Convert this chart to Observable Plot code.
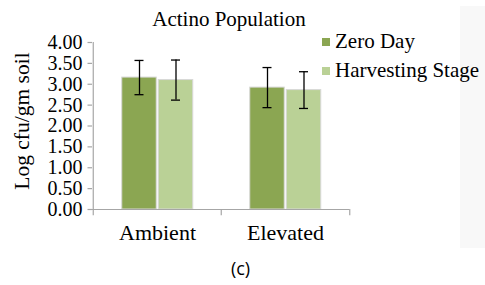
<!DOCTYPE html>
<html><head><meta charset="utf-8">
<script src="https://cdn.jsdelivr.net/npm/d3@7"></script>
<script src="https://cdn.jsdelivr.net/npm/@observablehq/plot@0.6"></script>
<style>
body{margin:0;background:#fff;}
#wrap{position:relative;width:485px;height:285px;overflow:hidden;font-family:"Liberation Serif","Times New Roman",serif;color:#000;}
#bgr{position:absolute;left:460px;top:6px;width:25px;height:242px;background:#f8f8f8;}
.t{position:absolute;white-space:nowrap;line-height:1;font-family:"Liberation Serif","Times New Roman",serif;}
#chart{position:absolute;left:0;top:0;}
</style></head>
<body>
<div id="wrap">
<div id="bgr"></div>
<div id="chart"></div>
<div class="t" id="title" style="font-size:21px;left:0;width:458px;text-align:center;top:9px;">Actino Population</div>
<div class="t" id="ylab" style="font-size:21.5px;left:23px;top:121px;transform:translate(-50%,-50%) rotate(-90deg);">Log cfu/gm soil</div>
<div id="legend"></div>
<div class="t" id="cap" style="font-family:'Open Sans','DejaVu Sans',sans-serif;font-size:18px;left:0;width:481px;text-align:center;top:259px;">(c)</div>
</div>
<script>
const categories = ["Ambient", "Elevated"];
const seriesNames = ["Zero Day", "Harvesting Stage"];
const zeroDay = [3.16, 2.92];
const zeroDayErr = [0.41, 0.48];
const harvesting = [3.10, 2.86];
const harvestingErr = [0.48, 0.44];
const yTicks = [0, 0.5, 1, 1.5, 2, 2.5, 3, 3.5, 4];
const colors = ["#8BA652", "#BAD196"];

const mk = (vals, errs) => categories.map((c, i) => ({cat: c, value: vals[i], lo: vals[i] - errs[i], hi: vals[i] + errs[i]}));
const dZero = mk(zeroDay, zeroDayErr);
const dHarv = mk(harvesting, harvestingErr);

const axisGray = "#a6a6a6";
const barInset = 46.75;
const capInset = 59.5;
const half = 64.25;

const plot = Plot.plot({
  width: 485, height: 285,
  marginLeft: 92, marginRight: 136, marginTop: 42, marginBottom: 76,
  style: {fontFamily: "'Liberation Serif','Times New Roman',serif", background: "transparent", overflow: "visible"},
  x: {domain: categories, padding: 0, axis: null},
  y: {domain: [0, 4], axis: null},
  marks: [
    Plot.barY(dZero, {x: "cat", y: "value", fill: colors[0], stroke: "#d8d8d8", strokeWidth: 1, insetLeft: barInset, insetRight: barInset, dx: -18}),
    Plot.barY(dHarv, {x: "cat", y: "value", fill: colors[1], stroke: "#d8d8d8", strokeWidth: 1, insetLeft: barInset, insetRight: barInset, dx: 18.5}),
    Plot.ruleX(dZero, {x: "cat", y1: "lo", y2: "hi", dx: -18, stroke: "#000", strokeWidth: 1.3}),
    Plot.ruleX(dHarv, {x: "cat", y1: "lo", y2: "hi", dx: 18.5, stroke: "#000", strokeWidth: 1.3}),
    Plot.tickY(dZero, {x: "cat", y: "lo", dx: -18, insetLeft: capInset, insetRight: capInset, stroke: "#000", strokeWidth: 1.3}),
    Plot.tickY(dZero, {x: "cat", y: "hi", dx: -18, insetLeft: capInset, insetRight: capInset, stroke: "#000", strokeWidth: 1.3}),
    Plot.tickY(dHarv, {x: "cat", y: "lo", dx: 18.5, insetLeft: capInset, insetRight: capInset, stroke: "#000", strokeWidth: 1.3}),
    Plot.tickY(dHarv, {x: "cat", y: "hi", dx: 18.5, insetLeft: capInset, insetRight: capInset, stroke: "#000", strokeWidth: 1.3}),
    // axes
    Plot.ruleY([0], {stroke: axisGray, strokeWidth: 1.2}),
    Plot.ruleX([categories[0]], {x: d => d, dx: -half, y1: 0, y2: 4, stroke: axisGray, strokeWidth: 1.2}),
    Plot.ruleX(categories, {x: d => d, dx: -half, y1: 0, y2: -0.15, stroke: axisGray, strokeWidth: 1.2}),
    Plot.ruleX([categories[categories.length - 1]], {x: d => d, dx: half, y1: 0, y2: -0.15, stroke: axisGray, strokeWidth: 1.2}),
    Plot.tickY(yTicks, {y: d => d, x: () => categories[0], dx: -half - 3, insetLeft: 61.75, insetRight: 61.75, stroke: axisGray, strokeWidth: 1.2}),
    Plot.text(yTicks, {y: d => d, frameAnchor: "left", dx: -10, textAnchor: "end", text: d => d3.format(".2f")(d), fontSize: 20, fill: "#000"}),
    Plot.text(categories, {x: d => d, frameAnchor: "bottom", dy: 30, text: d => d, fontSize: 22, fill: "#000"})
  ]
});
document.getElementById("chart").appendChild(plot);

const leg = document.getElementById("legend");
seriesNames.forEach((s, i) => {
  const y = 37 + i * 29;
  const sw = document.createElement("div");
  sw.style.cssText = `position:absolute;left:322px;top:${y + 1}px;width:8px;height:8px;background:${colors[i]};`;
  leg.appendChild(sw);
  const t = document.createElement("div");
  t.className = "t";
  t.style.cssText = `left:335px;top:${y - 6}px;font-size:21px;`;
  t.textContent = s;
  leg.appendChild(t);
});
</script>
</body></html>
